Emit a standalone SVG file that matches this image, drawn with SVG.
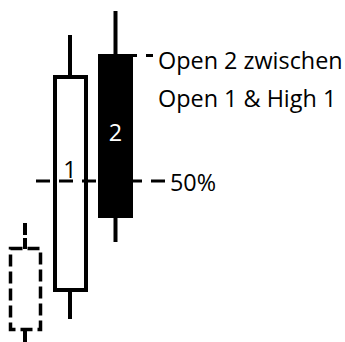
<svg xmlns="http://www.w3.org/2000/svg" width="345" height="342" viewBox="0 0 345 342">
<style>
.wick{stroke:#000;stroke-width:4;fill:none}
.guide{stroke:#000;stroke-width:3;fill:none;stroke-dasharray:14 9}
.lbl{font-family:"Open Sans","Liberation Sans",Arial,sans-serif;font-size:23.4px;fill:#000}
</style>
<rect width="345" height="342" fill="#fff"/>
<g id="candle0">
<line class="wick" x1="25" y1="223" x2="25" y2="249" stroke-dasharray="12 3"/>
<line class="wick" x1="25" y1="330" x2="25" y2="342"/>
<rect x="10.5" y="248.5" width="30" height="81" fill="none" stroke="#000" stroke-width="3.5" stroke-dasharray="12 5"/>
</g>
<g id="candle1">
<line class="wick" x1="70" y1="35" x2="70" y2="77"/>
<line class="wick" x1="70" y1="290" x2="70" y2="319"/>
<rect x="55" y="77" width="31" height="213" fill="#fff" stroke="#000" stroke-width="4"/>
<text class="lbl" x="70" y="178" text-anchor="middle">1</text>
</g>
<g id="candle2">
<line class="wick" x1="115.5" y1="11" x2="115.5" y2="54"/>
<line class="wick" x1="115.5" y1="218" x2="115.5" y2="242"/>
<rect x="98" y="54" width="35" height="164" fill="#000"/>
<text class="lbl" x="115.5" y="141" text-anchor="middle" style="fill:#fff">2</text>
</g>
<g id="guides">
<line class="guide" x1="36" y1="181" x2="165" y2="181"/>
<line class="guide" x1="123" y1="55.5" x2="153" y2="55.5"/>
</g>
<g id="label-open">
<text class="lbl" x="158" y="69">Open 2 zwischen</text>
<text class="lbl" x="158" y="107">Open 1 &amp; High 1</text>
</g>
<g id="label-50">
<text class="lbl" x="170" y="191">50%</text>
</g>
</svg>
